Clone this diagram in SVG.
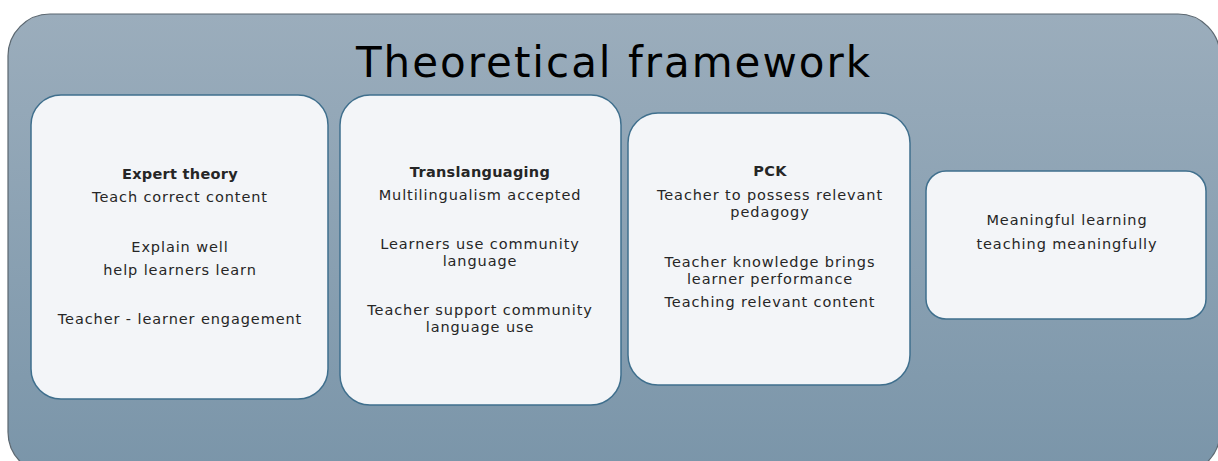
<svg xmlns="http://www.w3.org/2000/svg" width="1218" height="461" viewBox="0 0 1218 461">
<defs>
<linearGradient id="bg" x1="0" y1="0" x2="0" y2="1">
<stop offset="0" stop-color="#9badbc"/>
<stop offset="1" stop-color="#7a95a9"/>
</linearGradient>
<style>
.card{fill:#f3f5f8;stroke:#3f6f8d;stroke-width:1.5}
.t{font-family:"DejaVu Sans","Noto Sans",sans-serif;font-size:14.5px;letter-spacing:0.9px;fill:#262626;text-anchor:middle}
.b{font-weight:bold;letter-spacing:0.3px}
.title{font-family:"DejaVu Sans","Open Sans",sans-serif;font-size:42px;letter-spacing:2px;fill:#000;text-anchor:middle}
</style>
</defs>
<g id="frame">
<rect x="8" y="14" width="1212" height="460" rx="42" ry="42" fill="url(#bg)" stroke="#5b6770" stroke-width="1.2"/>
<text class="title" x="614" y="77">Theoretical framework</text>
</g>
<g id="expert">
<rect class="card" x="31" y="95" width="297" height="304" rx="30" ry="30"/>
<text class="t b" x="180" y="179">Expert theory</text>
<text class="t" x="180" y="202">Teach correct content</text>
<text class="t" x="180" y="252">Explain well</text>
<text class="t" x="180" y="275">help learners learn</text>
<text class="t" x="180" y="324">Teacher - learner engagement</text>
</g>
<g id="translanguaging">
<rect class="card" x="340" y="95" width="281" height="310" rx="30" ry="30"/>
<text class="t b" x="480" y="177">Translanguaging</text>
<text class="t" x="480" y="200">Multilingualism accepted</text>
<text class="t" x="480" y="249">Learners use community</text>
<text class="t" x="480" y="266">language</text>
<text class="t" x="480" y="315">Teacher support community</text>
<text class="t" x="480" y="332">language use</text>
</g>
<g id="pck">
<rect class="card" x="628" y="113" width="282" height="272" rx="30" ry="30"/>
<text class="t b" x="770" y="176">PCK</text>
<text class="t" x="770" y="200">Teacher to possess relevant</text>
<text class="t" x="770" y="217">pedagogy</text>
<text class="t" x="770" y="267">Teacher knowledge brings</text>
<text class="t" x="770" y="284">learner performance</text>
<text class="t" x="770" y="307">Teaching relevant content</text>
</g>
<g id="meaningful">
<rect class="card" x="926" y="171" width="280" height="148" rx="20" ry="20"/>
<text class="t" x="1067" y="225">Meaningful learning</text>
<text class="t" x="1067" y="249">teaching meaningfully</text>
</g>
<g id="connectors"></g>
</svg>
